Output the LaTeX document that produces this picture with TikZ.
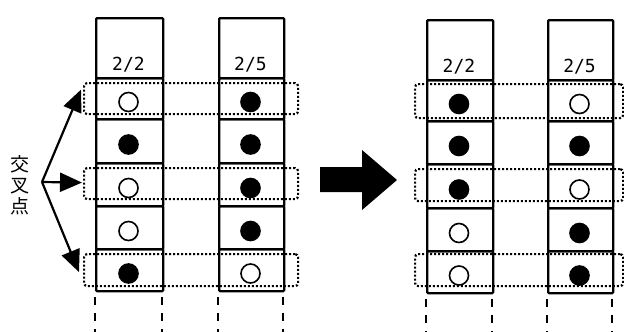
\documentclass[tikz,border=0pt]{standalone}
\usepackage{fontspec}
\newfontfamily\cjk{Noto Sans CJK JP}
\newfontfamily\digits{DejaVu Sans Mono}
\usetikzlibrary{arrows.meta}
\tikzset{
  cellbox/.style={draw, line width=2.3pt, rounded corners=1pt, inner sep=0pt, anchor=north west},
  hdr/.style={font=\digits\fontsize{18}{18}\selectfont, anchor=base},
  fullc/.style={fill=black, draw=black, line width=1.6pt},
  emptyc/.style={fill=white, draw=black, line width=1.6pt},
  dotbox/.style={draw, line width=2.2pt, dash pattern=on 2pt off 2pt, rounded corners=3pt, inner sep=0pt, anchor=north west},
  tail/.style={line width=2pt, dash pattern=on 8pt off 8pt},
  pointer/.style={line width=2.2pt, -{Triangle[length=22pt,width=19pt]}},
}
% #1 name, #2 x0, #3 x1, #4 top, #5 list of row boundaries (6 values), #6 circle states, #7 header label
\newcommand{\mkcolumn}[7]{%
  \pgfmathsetmacro{\cw}{#3-#2}
  \pgfmathsetmacro{\cx}{(#2+#3)/2}
  \pgfmathsetmacro{\hb}{{#5}[0]}
  \pgfmathsetmacro{\hh}{\hb-#4}
  \node[cellbox, minimum width=\cw pt, minimum height=\hh pt] (#1h) at (#2,#4) {};
  \node[hdr] (#1t) at (\cx,\hb-7) {#7};
  \foreach \i/\s in {#6} {
    \pgfmathsetmacro{\ya}{{#5}[\i-1]}
    \pgfmathsetmacro{\yb}{{#5}[\i]}
    \pgfmathsetmacro{\ch}{\yb-\ya}
    \node[cellbox, minimum width=\cw pt, minimum height=\ch pt] (#1c\i) at (#2,\ya) {};
    \pgfmathsetmacro{\cy}{(\ya+\yb)/2+4.5}
    \node[circle, minimum size=19pt, inner sep=0pt, \s] (#1o\i) at (\cx,\cy) {};
  }
  \pgfmathsetmacro{\yl}{{#5}[5]+7}
  \coordinate (#1la) at (#2,\yl);
  \coordinate (#1lb) at (#2,332);
  \coordinate (#1ra) at (#3,\yl);
  \coordinate (#1rb) at (#3,332);
  \draw[tail] (#1la) -- (#1lb);
  \draw[tail] (#1ra) -- (#1rb);
}
\begin{document}
\begin{tikzpicture}[x=1pt,y=-1pt]
\useasboundingbox (0,0) rectangle (624,332);

\mkcolumn{A}{95}{162}{17}{77,118,162,205,248,290}{1/emptyc,2/fullc,3/emptyc,4/emptyc,5/fullc}{2/2}
\mkcolumn{B}{218}{283}{17}{77,118,162,205,248,290}{1/fullc,2/fullc,3/fullc,4/fullc,5/emptyc}{2/5}
\mkcolumn{C}{426}{492}{19}{79,120,163,207,250,292}{1/fullc,2/fullc,3/fullc,4/emptyc,5/emptyc}{2/2}
\mkcolumn{D}{547}{612}{19}{79,120,163,207,250,292}{1/emptyc,2/fullc,3/emptyc,4/fullc,5/fullc}{2/5}

% ---------- dotted crossing boxes ----------
\node[dotbox, minimum width=214pt, minimum height=31pt] (L1) at (83,82) {};
\node[dotbox, minimum width=214pt, minimum height=31pt] (L3) at (83,167) {};
\node[dotbox, minimum width=214pt, minimum height=32pt] (L5) at (83,253) {};
\node[dotbox, minimum width=208pt, minimum height=34pt] (R1) at (414,83) {};
\node[dotbox, minimum width=208pt, minimum height=32pt] (R3) at (414,168) {};
\node[dotbox, minimum width=208pt, minimum height=32pt] (R5) at (414,253) {};

% ---------- label and pointers ----------
\node[font=\cjk\fontsize{19}{21}\selectfont, align=center, inner sep=0pt] (lbl) at (20,185) {交\\叉\\点};
\coordinate (o) at (42,182);
\draw[pointer] (o) -- ([xshift=-2pt,yshift=9pt]L1.west);
\draw[pointer] (o) -- ([xshift=-1pt,yshift=1pt]L3.west);
\draw[pointer] (o) -- ([xshift=-4pt,yshift=-2pt]L5.west);

% ---------- big arrow ----------
\fill (320,167) -- (362,167) -- (362,150) -- (397,180) -- (362,210) -- (362,192) -- (320,192) -- cycle;
\end{tikzpicture}
\end{document}
